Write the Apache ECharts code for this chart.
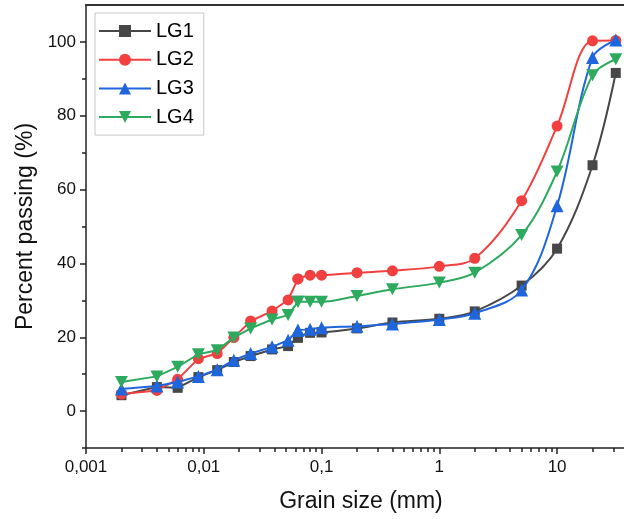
<!DOCTYPE html>
<html><head><meta charset="utf-8">
<script src="https://cdn.jsdelivr.net/npm/echarts@6/dist/echarts.min.js"></script>
<style>html,body{margin:0;padding:0;background:#fff}#c{width:624px;height:519px}</style>
</head><body><div id="c"></div>
<script>
const sizes = [0.002,0.004,0.006,0.009,0.013,0.018,0.025,0.038,0.052,0.063,0.08,0.1,0.2,0.4,1,2,5,10,20,31.5];
const LG1 = [4.3,6.5,6.3,9.2,11.1,13.3,14.9,16.7,17.6,19.9,21.2,21.3,22.4,24.0,25.0,27.0,34.0,44.0,66.6,91.6];
const LG2 = [4.6,5.6,8.6,14.2,15.6,19.9,24.4,27.1,30.1,35.8,36.8,36.8,37.5,38.0,39.2,41.4,57.0,77.2,100.3,100.4];
const LG3 = [6.0,6.8,7.9,9.4,11.2,13.8,15.6,17.4,19.2,21.9,22.2,22.6,23.0,23.6,24.8,26.5,32.8,55.6,95.8,100.5];
const LG4 = [7.9,9.4,12.0,15.4,16.5,19.9,22.4,24.8,26.0,29.6,29.6,29.6,31.2,33.0,34.8,37.5,47.7,64.9,91.0,95.3];
const seriesNames = ['LG1','LG2','LG3','LG4'];
const xMajorTicks = [0.001,0.01,0.1,1,10];
const xMinorTicks = [0.002,0.003,0.004,0.005,0.006,0.007,0.008,0.009,0.02,0.03,0.04,0.05,0.06,0.07,0.08,0.09,0.2,0.3,0.4,0.5,0.6,0.7,0.8,0.9,2,3,4,5,6,7,8,9,20,30];
const yMajorTicks = [0,20,40,60,80,100];
const yMinorTicks = [-10,10,30,50,70,90];
const splitIndex = 9; // last hydrometer point (straight segments), sieve part drawn smooth

const colors = ['#474747','#F23F3F','#1F66DD','#2EAA5F'];
const symbols = ['rect','circle','triangle',"path://M0,0 L10,0 L5,9 Z"];
const symSizes = [10,11,13,[13,12]];
const allData = [LG1,LG2,LG3,LG4];

const series = [];
allData.forEach((vals, k) => {
  const pairs = sizes.map((s,i)=>[s, vals[i]]);
  const common = {
    name: seriesNames[k], type: 'line', xAxisIndex: 0, yAxisIndex: 0,
    symbol: symbols[k], symbolSize: symSizes[k], showAllSymbol: true,
    lineStyle: {color: colors[k], width: 2}, itemStyle: {color: colors[k]},
    emphasis: {disabled: true}, animation: false, z: 2 + k
  };
  series.push(Object.assign({}, common, {data: pairs.slice(0, splitIndex + 1), smooth: false}));
  series.push(Object.assign({}, common, {data: pairs.slice(splitIndex), smooth: 0.35}));
});

const font = 'Liberation Sans, Arial, sans-serif';
const chart = echarts.init(document.getElementById('c'), null, {renderer: 'canvas'});
chart.setOption({
  animation: false,
  grid: {left: 86, right: 0, top: 5, bottom: 71},
  legend: {
    data: seriesNames, orient: 'vertical', left: 95, top: 13,
    itemWidth: 52, itemHeight: 15, itemGap: 8.7,
    padding: [8, 10, 8, 3],
    borderColor: '#c8c8c8', borderWidth: 1, backgroundColor: '#fff',
    textStyle: {fontSize: 20, color: '#000', fontFamily: font}
  },
  xAxis: [
    {type: 'log', min: 0.001, max: 37, position: 'bottom',
     name: 'Grain size (mm)', nameLocation: 'middle', nameGap: 42,
     nameTextStyle: {fontSize: 23, color: '#111', fontFamily: font, padding: [0, 0, 0, 12]},
     axisLine: {show: true, onZero: false, lineStyle: {color: '#222', width: 1.5}},
     axisTick: {show: true, inside: false, length: 6, customValues: xMajorTicks, lineStyle: {color: '#222', width: 1.5}},
     axisLabel: {show: true, customValues: xMajorTicks, fontSize: 17, color: '#111', fontFamily: font, margin: 11,
       formatter: v => String(v).replace('.', ',')},
     splitLine: {show: false}, minorTick: {show: false}},
    {type: 'log', min: 0.001, max: 37, position: 'bottom',
     axisLine: {show: false, onZero: false},
     axisTick: {show: true, inside: false, length: 4, customValues: xMinorTicks, lineStyle: {color: '#222', width: 1.5}},
     axisLabel: {show: false}, splitLine: {show: false}},
    {type: 'log', min: 0.001, max: 37, position: 'top',
     axisLine: {show: true, onZero: false, lineStyle: {color: '#333', width: 2}},
     axisTick: {show: false}, axisLabel: {show: false}, splitLine: {show: false}}
  ],
  yAxis: [
    {type: 'value', min: -10, max: 110, position: 'left',
     name: 'Percent passing (%)', nameLocation: 'middle', nameGap: 47,
     nameTextStyle: {fontSize: 23, color: '#111', fontFamily: font},
     axisLine: {show: true, onZero: false, lineStyle: {color: '#222', width: 1.5}},
     axisTick: {show: true, inside: false, length: 6, customValues: yMajorTicks, lineStyle: {color: '#222', width: 1.5}},
     axisLabel: {show: true, customValues: yMajorTicks, fontSize: 17, color: '#111', fontFamily: font, margin: 10},
     splitLine: {show: false}},
    {type: 'value', min: -10, max: 110, position: 'left',
     axisLine: {show: false, onZero: false},
     axisTick: {show: true, inside: false, length: 4, customValues: yMinorTicks, lineStyle: {color: '#222', width: 1.5}},
     axisLabel: {show: false}, splitLine: {show: false}}
  ],
  series: series
});
</script></body></html>
